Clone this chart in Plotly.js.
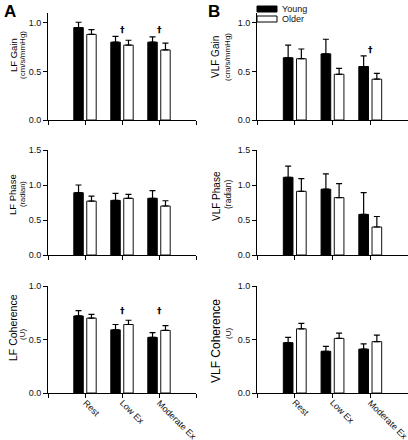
<!DOCTYPE html>
<html>
<head>
<meta charset="utf-8">
<script src="https://cdn.plot.ly/plotly-3.0.1.min.js"></script>
<style>html,body{margin:0;padding:0;background:#fff;}#chart{width:408px;height:440px;}</style>
</head>
<body>
<div id="chart"></div>
<script>
// ---- data ----
const categories = ['Rest', 'Low Ex', 'Moderate Ex'];
const groups = ['Young', 'Older'];

const lfGainYoung = [0.95, 0.80, 0.80];
const lfGainYoungErr = [0.055, 0.06, 0.055];
const lfGainOlder = [0.88, 0.77, 0.72];
const lfGainOlderErr = [0.05, 0.05, 0.07];

const vlfGainYoung = [0.64, 0.68, 0.55];
const vlfGainYoungErr = [0.13, 0.15, 0.11];
const vlfGainOlder = [0.63, 0.47, 0.42];
const vlfGainOlderErr = [0.10, 0.06, 0.06];

const lfPhaseYoung = [0.89, 0.78, 0.81];
const lfPhaseYoungErr = [0.11, 0.10, 0.11];
const lfPhaseOlder = [0.77, 0.81, 0.70];
const lfPhaseOlderErr = [0.07, 0.055, 0.075];

const vlfPhaseYoung = [1.11, 0.94, 0.58];
const vlfPhaseYoungErr = [0.16, 0.22, 0.31];
const vlfPhaseOlder = [0.91, 0.82, 0.40];
const vlfPhaseOlderErr = [0.18, 0.20, 0.15];

const lfCohYoung = [0.72, 0.59, 0.52];
const lfCohYoungErr = [0.05, 0.05, 0.045];
const lfCohOlder = [0.70, 0.64, 0.585];
const lfCohOlderErr = [0.035, 0.04, 0.045];

const vlfCohYoung = [0.47, 0.39, 0.41];
const vlfCohYoungErr = [0.05, 0.045, 0.05];
const vlfCohOlder = [0.60, 0.51, 0.48];
const vlfCohOlderErr = [0.05, 0.05, 0.06];

// significance daggers: category and height
const lfGainDaggerCats = ['Low Ex', 'Moderate Ex'];
const lfGainDaggerY = [0.93, 0.93];
const vlfGainDaggerCats = ['Moderate Ex'];
const vlfGainDaggerY = [0.72];
const lfCohDaggerCats = ['Low Ex', 'Moderate Ex'];
const lfCohDaggerY = [0.77, 0.77];

const yTitles = ['LF Gain', 'VLF Gain', 'LF Phase', 'VLF Phase', 'LF Coherence', 'VLF Coherence'];
const yUnits = ['(cm/s/mmHg)', '(cm/s/mmHg)', '(radian)', '(radian)', '(U)', '(U)'];
const yTicks1 = [0.0, 0.5, 1.0];
const yTicks2 = [0.0, 0.5, 1.0, 1.5];
const yTicks3 = [0.0, 0.5, 1.0];

// ---- build ----
const W = 408, H = 440;
const px = x => x / W;
const py = y => 1 - y / H;
const catX = c => categories.indexOf(c) + 1;
const xs = categories.map(catX);
const FONT = 'Liberation Sans, Arial, sans-serif';

const panels = [
  {y: lfGainYoung, ye: lfGainYoungErr, o: lfGainOlder, oe: lfGainOlderErr},
  {y: vlfGainYoung, ye: vlfGainYoungErr, o: vlfGainOlder, oe: vlfGainOlderErr},
  {y: lfPhaseYoung, ye: lfPhaseYoungErr, o: lfPhaseOlder, oe: lfPhaseOlderErr},
  {y: vlfPhaseYoung, ye: vlfPhaseYoungErr, o: vlfPhaseOlder, oe: vlfPhaseOlderErr},
  {y: lfCohYoung, ye: lfCohYoungErr, o: lfCohOlder, oe: lfCohOlderErr},
  {y: vlfCohYoung, ye: vlfCohYoungErr, o: vlfCohOlder, oe: vlfCohOlderErr}
];

const traces = [];
panels.forEach((p, i) => {
  const k = i === 0 ? '' : String(i + 1);
  traces.push({
    type: 'bar', x: xs, y: p.y, name: groups[0], xaxis: 'x' + k, yaxis: 'y' + k,
    marker: {color: '#000', line: {color: '#000', width: 1}},
    error_y: {type: 'data', symmetric: false, array: p.ye, arrayminus: p.ye.map(() => 0),
              color: '#000', thickness: 1.2, width: 3},
    showlegend: false, hoverinfo: 'skip'
  });
  traces.push({
    type: 'bar', x: xs, y: p.o, name: groups[1], xaxis: 'x' + k, yaxis: 'y' + k,
    marker: {color: '#fff', line: {color: '#111', width: 1}},
    error_y: {type: 'data', symmetric: false, array: p.oe, arrayminus: p.oe.map(() => 0),
              color: '#000', thickness: 1.2, width: 3},
    showlegend: false, hoverinfo: 'skip'
  });
});

const xDom = [[px(48), px(196)], [px(257), px(408)]];
const yDom = [[py(120), py(13)], [py(255), py(150)], [py(393), py(286)]];
const yRanges = [[0, 1.1], [0, 1.5], [0, 1.0]];
const yTickSets = [yTicks1, yTicks2, yTicks3];

const layout = {
  width: W, height: H,
  margin: {l: 0, r: 0, t: 0, b: 0},
  paper_bgcolor: '#fff', plot_bgcolor: '#fff',
  barmode: 'group', bargap: 0.30, bargroupgap: 0.27,
  font: {family: FONT, color: '#111', size: 9},
  showlegend: false,
  annotations: [], shapes: []
};

for (let i = 0; i < 6; i++) {
  const k = i === 0 ? '' : String(i + 1);
  const col = i % 2, row = Math.floor(i / 2);
  layout['xaxis' + k] = {
    domain: xDom[col], anchor: 'y' + k, range: [0, 4],
    tickmode: 'array', tickvals: [0, 1, 2, 3, 4],
    showticklabels: false,
    ticks: 'outside', ticklen: 4, tickwidth: 1, tickcolor: '#000',
    showline: true, linecolor: '#000', linewidth: 1,
    showgrid: false, zeroline: false, fixedrange: true
  };
  layout['yaxis' + k] = {
    domain: yDom[row], anchor: 'x' + k, range: yRanges[row],
    tickmode: 'array', tickvals: yTickSets[row], tickformat: '.1f',
    ticks: 'outside', ticklen: 4, tickwidth: 1, tickcolor: '#000',
    showline: true, linecolor: '#000', linewidth: 1,
    showgrid: false, zeroline: false, fixedrange: true,
    tickfont: {size: 9, family: FONT, color: '#111'}
  };
}

// rotated category labels under the bottom row
['5', '6'].forEach(k => {
  categories.forEach(c => {
    layout.annotations.push({
      xref: 'x' + k, yref: 'paper', x: catX(c), y: py(395),
      xanchor: 'left', yanchor: 'top', xshift: -7,
      text: c, textangle: 45, showarrow: false,
      font: {size: 9, family: FONT, color: '#111'}
    });
  });
});

// y titles (main + units) as rotated annotations
const titlePos = [
  {x: 13, xs: 22, y: 55, ys: 55, f: 9.5, fs: 8},
  {x: 216, xs: 228, y: 57, ys: 57, f: 10, fs: 8},
  {x: 13, xs: 22, y: 195, ys: 194, f: 9.5, fs: 7.5},
  {x: 216, xs: 228, y: 196, ys: 195, f: 10, fs: 8.5},
  {x: 13, xs: 22, y: 328, ys: 335, f: 10.5, fs: 8},
  {x: 216, xs: 228, y: 341, ys: 334, f: 12, fs: 8}
];
titlePos.forEach((t, i) => {
  layout.annotations.push({
    xref: 'paper', yref: 'paper', x: px(t.x), y: py(t.y), xanchor: 'center', yanchor: 'middle',
    text: yTitles[i], textangle: -90, showarrow: false, font: {size: t.f, family: FONT, color: '#000'}
  });
  layout.annotations.push({
    xref: 'paper', yref: 'paper', x: px(t.xs), y: py(t.ys), xanchor: 'center', yanchor: 'middle',
    text: yUnits[i], textangle: -90, showarrow: false, font: {size: t.fs, family: FONT, color: '#111'}
  });
});

// daggers
function addDaggers(cats, ys, k) {
  cats.forEach((c, j) => {
    layout.annotations.push({
      xref: 'x' + k, yref: 'y' + k, x: catX(c), y: ys[j], text: '<b>\u2020</b>', showarrow: false,
      xanchor: 'center', yanchor: 'middle', font: {size: 9, family: 'DejaVu Sans, sans-serif', color: '#000'}
    });
  });
}
addDaggers(lfGainDaggerCats, lfGainDaggerY, '');
addDaggers(vlfGainDaggerCats, vlfGainDaggerY, '2');
addDaggers(lfCohDaggerCats, lfCohDaggerY, '5');

// panel letters
[['A', 2], ['B', 206]].forEach(([t, x]) => {
  layout.annotations.push({
    xref: 'paper', yref: 'paper', x: px(x), y: py(0), xanchor: 'left', yanchor: 'top',
    text: '<b>' + t + '</b>', showarrow: false, font: {size: 17, family: FONT, color: '#000'}
  });
});

// custom legend
const legendFill = ['#000', '#fff'];
groups.forEach((g, j) => {
  const top = 6 + j * 10;
  layout.shapes.push({
    type: 'rect', xref: 'paper', yref: 'paper',
    x0: px(257), x1: px(277), y0: py(top + 6), y1: py(top),
    fillcolor: legendFill[j], line: {color: '#000', width: 1}
  });
  layout.annotations.push({
    xref: 'paper', yref: 'paper', x: px(280), y: py(top + 3), xanchor: 'left', yanchor: 'middle',
    text: g, showarrow: false, font: {size: 9, family: FONT, color: '#111'}
  });
});

Plotly.newPlot('chart', traces, layout, {displayModeBar: false, staticPlot: true});
</script>
</body>
</html>
